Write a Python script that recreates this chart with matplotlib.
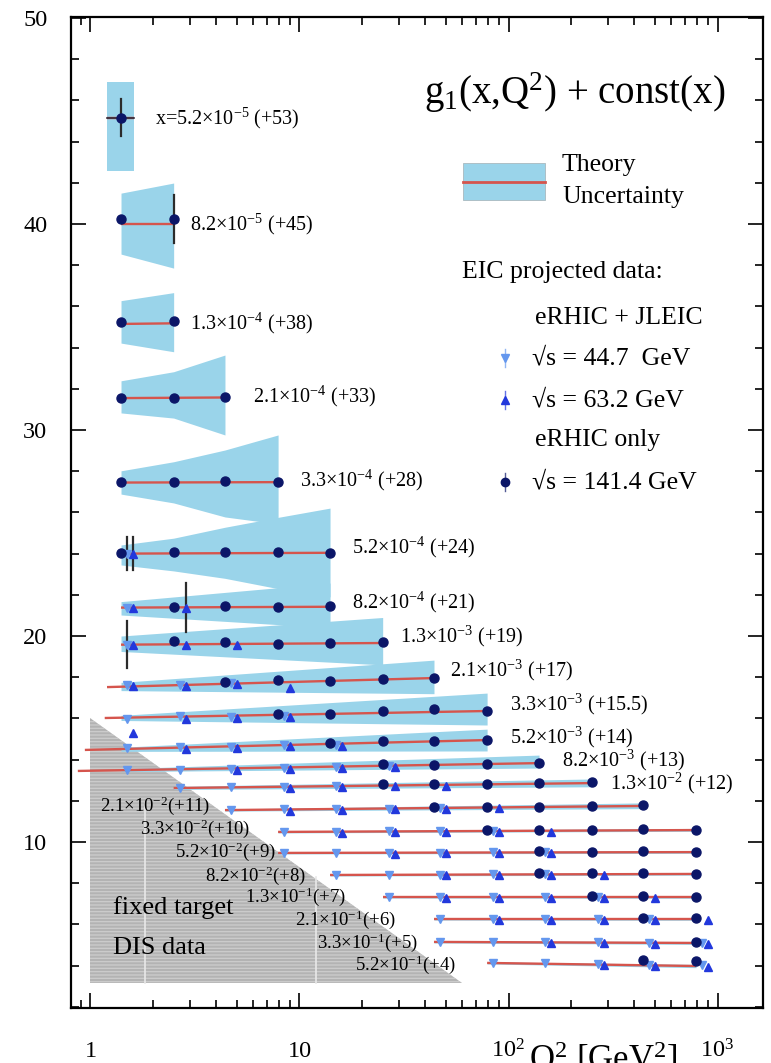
import matplotlib
matplotlib.use("Agg")
import matplotlib.pyplot as plt
from matplotlib.ticker import LogLocator, MultipleLocator, NullFormatter
from matplotlib.patches import Polygon, Rectangle
import numpy as np

plt.rcParams['font.family'] = ['Liberation Serif', 'DejaVu Serif']
plt.rcParams['mathtext.fontset'] = 'custom'
plt.rcParams['mathtext.rm'] = 'Liberation Serif'
plt.rcParams['mathtext.it'] = 'Liberation Serif:italic'
plt.rcParams['mathtext.bf'] = 'Liberation Serif:bold'
plt.rcParams['hatch.linewidth'] = 0.9

# Q^2 bins (GeV^2) of the projected EIC points
q2_bins = [1.4, 2.5, 4.4, 7.9, 14, 25, 44, 79, 140, 250, 440, 790]

# x bins and the constant added to g1 in each one
x_mant = ['5.2', '8.2', '1.3', '2.1', '3.3', '5.2', '8.2', '1.3', '2.1', '3.3', '5.2',
          '8.2', '1.3', '2.1', '3.3', '5.2', '8.2', '1.3', '2.1', '3.3', '5.2']
x_exp = [-5, -5, -4, -4, -4, -4, -4, -3, -3, -3, -3, -3, -2, -2, -2, -2, -2, -1, -1, -1, -1]
offsets = ['+53', '+45', '+38', '+33', '+28', '+24', '+21', '+19', '+17', '+15.5', '+14',
           '+13', '+12', '+11', '+10', '+9', '+8', '+7', '+6', '+5', '+4']

# theory curve, end points per x bin
theory_q2 = [[1.2, 1.61], [1.4, 2.5], [1.4, 2.5], [1.4, 4.4], [1.4, 7.9], [1.4, 14],
             [1.4, 14], [1.4, 25], [1.2, 44], [1.17, 79], [0.94, 79], [0.87, 140],
             [2.5, 250], [4.4, 440], [7.9, 790], [7.9, 790], [14, 790], [25, 790],
             [44, 790], [44, 790], [79, 790]]
theory_val = [[45.15, 45.15], [40.0, 40.0], [35.15, 35.18], [31.55, 31.58], [27.45, 27.47],
              [24.0, 24.04], [21.38, 21.42], [19.58, 19.66], [17.52, 17.96], [16.02, 16.36],
              [14.47, 14.95], [13.45, 13.83], [12.62, 12.86], [11.55, 11.75], [10.49, 10.58],
              [9.47, 9.51], [8.40, 8.45], [7.33, 7.33], [6.26, 6.26], [5.15, 5.10], [4.13, 3.98]]

# theory uncertainty band
band_q2 = [[1.2, 1.61], [1.4, 2.5], [1.4, 2.5], [1.4, 2.5, 4.4], [1.4, 2.5, 4.4, 7.9],
           [1.4, 2.5, 4.4, 7.9, 14], [1.4, 14], [1.4, 25], [1.4, 44], [1.4, 79], [1.4, 79],
           [1.4, 140], [2.5, 250], [4.4, 440], [7.9, 790], [7.9, 790], [14, 790], [25, 790],
           [44, 790], [44, 790], [79, 790]]
band_lo = [[42.57, 42.57], [38.54, 37.86], [34.22, 33.8], [30.83, 30.58, 29.76],
           [26.89, 26.46, 25.78, 25.44], [23.45, 23.16, 22.8, 22.3, 21.9], [21.02, 20.4],
           [19.25, 18.6], [17.35, 17.2], [15.9, 15.68], [14.4, 14.42], [13.42, 13.59],
           [12.55, 12.68], [11.5, 11.62], [10.44, 10.52], [9.42, 9.45], [8.35, 8.39],
           [7.28, 7.27], [6.21, 6.2], [5.1, 5.03], [4.08, 3.9]]
band_hi = [[46.9, 46.9], [41.5, 41.99], [36.28, 36.67], [32.39, 32.83, 33.64],
           [28.02, 28.46, 29.03, 29.76], [24.42, 24.75, 25.28, 25.76, 26.21], [21.67, 22.57],
           [20.0, 20.9], [17.75, 18.83], [16.15, 17.23], [14.6, 15.48], [13.56, 14.22],
           [12.7, 13.06], [11.6, 11.9], [10.54, 10.66], [9.52, 9.58], [8.45, 8.52],
           [7.38, 7.4], [6.31, 6.33], [5.2, 5.17], [4.18, 4.06]]

# eRHIC only, sqrt(s) = 141.4 GeV  (bin index, value)
circ_k = [[0], [0, 1], [0, 1], [0, 1, 2], [0, 1, 2, 3], [0, 1, 2, 3, 4], [1, 2, 3, 4],
          [1, 2, 3, 4, 5], [2, 3, 4, 5, 6], [3, 4, 5, 6, 7], [4, 5, 6, 7], [5, 6, 7, 8],
          [5, 6, 7, 8, 9], [6, 7, 8, 9, 10], [7, 8, 9, 10, 11], [8, 9, 10, 11], [8, 9, 10, 11],
          [9, 10, 11], [10, 11], [11], [10, 11]]
circ_y = [[45.15], [40.24, 40.24], [35.25, 35.27], [31.57, 31.57, 31.62],
          [27.49, 27.49, 27.52, 27.47], [24.04, 24.1, 24.07, 24.06, 24.04],
          [21.42, 21.45, 21.42, 21.44], [19.78, 19.7, 19.62, 19.64, 19.72],
          [17.78, 17.85, 17.82, 17.9, 17.98], [16.2, 16.22, 16.34, 16.44, 16.38],
          [14.82, 14.88, 14.92, 14.97], [13.78, 13.76, 13.8, 13.85],
          [12.82, 12.8, 12.84, 12.86, 12.9], [11.7, 11.72, 11.72, 11.76, 11.8],
          [10.6, 10.6, 10.6, 10.62, 10.6], [9.55, 9.52, 9.55, 9.52], [8.48, 8.48, 8.5, 8.45],
          [7.38, 7.38, 7.35], [6.32, 6.3], [5.15], [4.25, 4.22]]

# eRHIC + JLEIC, sqrt(s) = 44.7 GeV
down_k = [[], [], [], [], [], [0], [0], [0], [0, 1, 2], [0, 1, 2, 3], [0, 1, 2, 3, 4],
          [0, 1, 2, 3, 4, 5], [1, 2, 3, 4], [2, 3, 4, 5, 6], [3, 4, 5, 6, 7],
          [3, 4, 5, 6, 7, 8], [4, 5, 6, 7, 8], [5, 6, 7, 8, 9], [6, 7, 8, 9, 10],
          [6, 7, 8, 9, 10, 11], [7, 8, 9, 10, 11]]
down_y = [[], [], [], [], [], [24.0], [21.38], [19.58], [17.6, 17.6, 17.7],
          [15.97, 16.1, 16.08, 16.1], [14.55, 14.6, 14.62, 14.7, 14.72],
          [13.52, 13.52, 13.55, 13.6, 13.64, 13.7], [12.62, 12.65, 12.68, 12.7],
          [11.57, 11.58, 11.6, 11.62, 11.64], [10.5, 10.5, 10.52, 10.53, 10.54],
          [9.48, 9.48, 9.48, 9.49, 9.5, 9.5], [8.42, 8.42, 8.42, 8.43, 8.43],
          [7.35, 7.35, 7.35, 7.35, 7.34], [6.27, 6.27, 6.27, 6.27, 6.27],
          [5.15, 5.15, 5.15, 5.13, 5.12, 5.1], [4.12, 4.12, 4.08, 4.05, 4.02]]

# eRHIC + JLEIC, sqrt(s) = 63.2 GeV
up_k = [[], [], [], [], [], [0], [0, 1], [0, 1, 2], [0, 1, 2, 3], [0, 1, 2, 3], [1, 2, 3, 4],
        [2, 3, 4, 5], [3, 4, 5, 6], [3, 4, 5, 6, 7], [4, 5, 6, 7, 8], [5, 6, 7, 8],
        [6, 7, 8, 9], [6, 7, 8, 9, 10], [7, 8, 9, 10, 11], [8, 9, 10, 11], [9, 10, 11]]
up_y = [[], [], [], [], [], [24.0], [21.38, 21.38], [19.55, 19.55, 19.58],
        [17.55, 17.58, 17.68, 17.48], [15.29, 15.98, 16.0, 16.05], [14.5, 14.55, 14.65, 14.68],
        [13.5, 13.55, 13.6, 13.66], [12.62, 12.66, 12.7, 12.74],
        [11.52, 11.55, 11.58, 11.6, 11.64], [10.46, 10.47, 10.48, 10.5, 10.5],
        [9.44, 9.45, 9.45, 9.46], [8.38, 8.38, 8.38, 8.38], [7.3, 7.3, 7.3, 7.3, 7.3],
        [6.22, 6.22, 6.22, 6.22, 6.22], [5.1, 5.08, 5.07, 5.05], [4.02, 3.98, 3.95]]

# points drawn with an error bar: series, x bin row, Q^2 bin, half size
err_series = ['circ', 'circ', 'down', 'up', 'up', 'down']
err_row = [0, 1, 5, 5, 6, 7]
err_bin = [0, 1, 0, 0, 1, 0]
err_size = [0.9, 1.17, 0.8, 0.8, 1.19, 1.15]

# fixed target DIS coverage (Q^2, value)
fixed_q2 = [1.0, 1.0, 60.0]
fixed_y = [16.0, 3.15, 3.15]

# where each x bin label sits
label_xy = [(2.03, 45.15), (2.99, 40.0), (2.99, 35.19), (5.99, 31.65), (10.06, 27.57),
            (17.84, 24.32), (17.84, 21.65), (30.3, 20.0), (52.5, 18.35), (101.7, 16.7),
            (101.7, 15.1), (180.3, 13.98), (305.9, 12.86), (1.11, 11.75), (1.725, 10.63),
            (2.537, 9.51), (3.53, 8.35), (5.485, 7.33), (9.52, 6.21), (12.13, 5.1),
            (18.43, 4.03)]

band_color = '#9ad4ea'
line_color = '#d5554d'
navy = '#0b1668'
up_color = '#2238dc'
down_color = '#6497ee'
down_shift = 1.07
up_shift = 1.14

fig = plt.figure(figsize=(7.71, 10.63), dpi=100)
ax = fig.add_axes([0.0921, 0.0517, 0.8975, 0.9323])
ax.set_xscale('log')
ax.set_xlim(0.807, 1650)
ax.set_ylim(1.94, 50.05)

# fixed target region
tri = Polygon(list(zip(fixed_q2, fixed_y)), closed=True, facecolor='#b3b3b3',
              edgecolor='#cdcdcd', hatch='-----', lw=0, zorder=0.5)
ax.add_patch(tri)
ax.plot([1.83, 1.83], [3.15, 11.9], color='#e8e8e8', lw=1.2, zorder=0.6)
ax.plot([12.0, 12.0], [3.15, 8.3], color='#e8e8e8', lw=1.2, zorder=0.6)
ax.text(1.28, 6.8, 'fixed target', fontsize=19, va='center', ha='left', zorder=7)
ax.text(1.28, 4.85, 'DIS data', fontsize=19, va='center', ha='left', zorder=7)

for i in range(len(x_mant)):
    ax.fill_between(band_q2[i], band_lo[i], band_hi[i], color=band_color, lw=0, zorder=1)
    ax.plot(theory_q2[i], theory_val[i], color=line_color, lw=1.7, zorder=3,
            solid_capstyle='butt')

    q = [q2_bins[k] * down_shift for k in down_k[i]]
    ax.plot(q, down_y[i], 'v', ms=6, color=down_color, ls='none', zorder=5)
    q = [q2_bins[k] * up_shift for k in up_k[i]]
    ax.plot(q, up_y[i], '^', ms=6, color=up_color, ls='none', zorder=5)
    q = [q2_bins[k] for k in circ_k[i]]
    ax.plot(q, circ_y[i], 'o', ms=6.5, color=navy, ls='none', zorder=6)

    # labels sitting on the grey region are set a little smaller
    pre = 'x=' if i == 0 else ''
    gap = ' ' if i < 13 else ''
    txt = f'{pre}{x_mant[i]}×$10^{{{x_exp[i]}}}${gap}({offsets[i]})'
    ax.text(label_xy[i][0], label_xy[i][1], txt, fontsize=14.5 if i < 13 else 13.5,
            ha='left', va='center', zorder=7)

# error bars on the lowest Q^2 points
for s, r, b, e in zip(err_series, err_row, err_bin, err_size):
    if s == 'circ':
        q, y = q2_bins[b], circ_y[r][circ_k[r].index(b)]
    elif s == 'down':
        q, y = q2_bins[b] * down_shift, down_y[r][down_k[r].index(b)]
    else:
        q, y = q2_bins[b] * up_shift, up_y[r][up_k[r].index(b)]
    ax.plot([q, q], [y - e, y + e], color='#2b2b2b', lw=1.6, zorder=4)
ax.plot([1.2, 1.61], [45.15, 45.15], color='#2b2b3b', lw=1.2, zorder=4)

# title and legend
ax.text(0.728, 0.924, r'g$_1$(x,Q$^2$) + const(x)', transform=ax.transAxes,
        fontsize=28, ha='center', va='center')
ax.add_patch(Rectangle((0.5665, 0.8153), 0.1185, 0.0374, transform=ax.transAxes,
                       facecolor=band_color, edgecolor='#a9b9bf', lw=0.6))
ax.plot([0.5665, 0.685], [0.8335, 0.8335], transform=ax.transAxes, color=line_color, lw=2)
ax.text(0.7095, 0.8507, 'Theory', transform=ax.transAxes, fontsize=18.5, va='center')
ax.text(0.7095, 0.818, 'Uncertainty', transform=ax.transAxes, fontsize=18.5, va='center')
ax.text(0.565, 0.7427, 'EIC projected data:', transform=ax.transAxes, fontsize=18.5,
        va='center')
ax.text(0.6705, 0.6963, 'eRHIC + JLEIC', transform=ax.transAxes, fontsize=18.5, va='center')
ax.text(0.6705, 0.5732, 'eRHIC only', transform=ax.transAxes, fontsize=18.5, va='center')

legend_rows = [(0.6559, 'v', down_color, '√s = 44.7  GeV'),
               (0.6135, '^', up_color, '√s = 63.2 GeV'),
               (0.5308, 'o', navy, '√s = 141.4 GeV')]
for yy, m, c, t in legend_rows:
    ax.plot([0.627, 0.627], [yy - 0.009, yy + 0.009], transform=ax.transAxes,
            color=c, lw=1.0, alpha=0.7)
    ax.plot([0.627], [yy], m, ms=6, color=c, transform=ax.transAxes)
    ax.text(0.666, yy, t, transform=ax.transAxes, fontsize=18.5, va='center')

# axes and ticks
for sp in ax.spines.values():
    sp.set_linewidth(1.6)
ax.xaxis.set_major_locator(LogLocator(base=10, numticks=10))
ax.xaxis.set_minor_locator(LogLocator(base=10, subs=np.arange(2, 10), numticks=20))
ax.xaxis.set_major_formatter(NullFormatter())
ax.xaxis.set_minor_formatter(NullFormatter())
ax.yaxis.set_major_locator(MultipleLocator(10))
ax.yaxis.set_minor_locator(MultipleLocator(2))
ax.tick_params(which='both', direction='in', top=True, right=True, width=1.2)
ax.tick_params(which='major', length=11)
ax.tick_params(which='minor', length=6)
ax.tick_params(axis='y', labelsize=17.5, pad=17)

for v, s in zip([1, 10, 100, 1000], ['1', '10', '$10^2$', '$10^3$']):
    ax.text(v, -0.0494, s, transform=ax.get_xaxis_transform(), ha='center',
            va='baseline', fontsize=17.5)
ax.text(125, -0.0625, r'Q$^2$ [GeV$^2$]', transform=ax.get_xaxis_transform(),
        ha='left', va='baseline', fontsize=25)

fig.savefig('out.png', dpi=100)
